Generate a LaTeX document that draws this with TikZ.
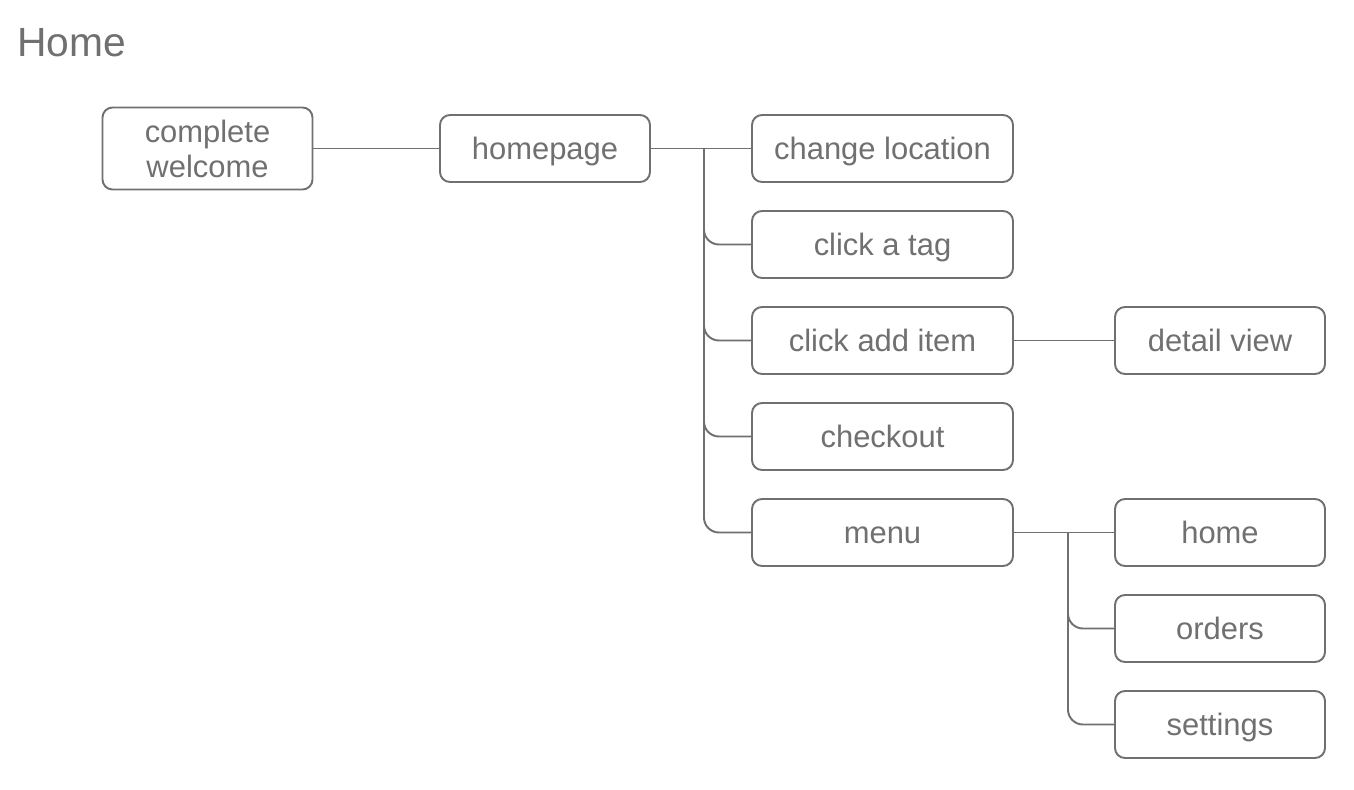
\documentclass[tikz,border=0pt]{standalone}
\usepackage{fontspec}
\setmainfont{Liberation Sans}
\usetikzlibrary{positioning}
\definecolor{linegray}{HTML}{707070}

\begin{document}
\begin{tikzpicture}[node distance=1.92cm and 6.75cm,on grid]
\tikzset{
  box/.style={draw=linegray,line width=1.1pt,rounded corners=0.2cm,
    minimum width=4.2cm,minimum height=1.34cm,text=linegray,
    font=\fontsize{17.6}{19.9}\selectfont},
  page/.style={box,text height=14pt,text depth=2pt},
  wide/.style={page,minimum width=5.22cm},
  link/.style={draw=linegray,line width=1.1pt,rounded corners=0.3cm}
}
\useasboundingbox (0,0) rectangle (27.08,-15.8);
\node[anchor=base west,inner sep=0pt,text=linegray,font=\fontsize{23.2}{28}\selectfont] (title) at (0.34,-1.14) {Home};

\node[page] (homepage) at (10.9,-2.97) {homepage};
\node[box,minimum height=1.64cm,align=center] (welcome) [left=of homepage] {complete\\welcome};
\node[wide] (location) [right=of homepage] {change location};
\node[wide] (tag) [below=of location] {click a tag};
\node[wide] (additem) [below=of tag] {click add item};
\node[wide] (checkout) [below=of additem] {checkout};
\node[wide] (menu) [below=of checkout] {menu};
\node[page] (detail) [right=of additem] {detail view};
\node[page] (home) [right=of menu] {home};
\node[page] (orders) [below=of home] {orders};
\node[page] (settings) [below=of orders] {settings};

\coordinate (hub) at ([xshift=1.06cm]homepage.east);
\coordinate (menuhub) at ([xshift=1.08cm]menu.east);

\draw[link] (welcome) -- (homepage);
\draw[link] (homepage) -- (location);
\foreach \n in {tag,additem,checkout,menu}
  \draw[link] (hub) |- (\n.west);
\draw[link] (additem) -- (detail);
\draw[link] (menu) -- (home);
\foreach \n in {orders,settings}
  \draw[link] (menuhub) |- (\n.west);
\end{tikzpicture}
\end{document}
